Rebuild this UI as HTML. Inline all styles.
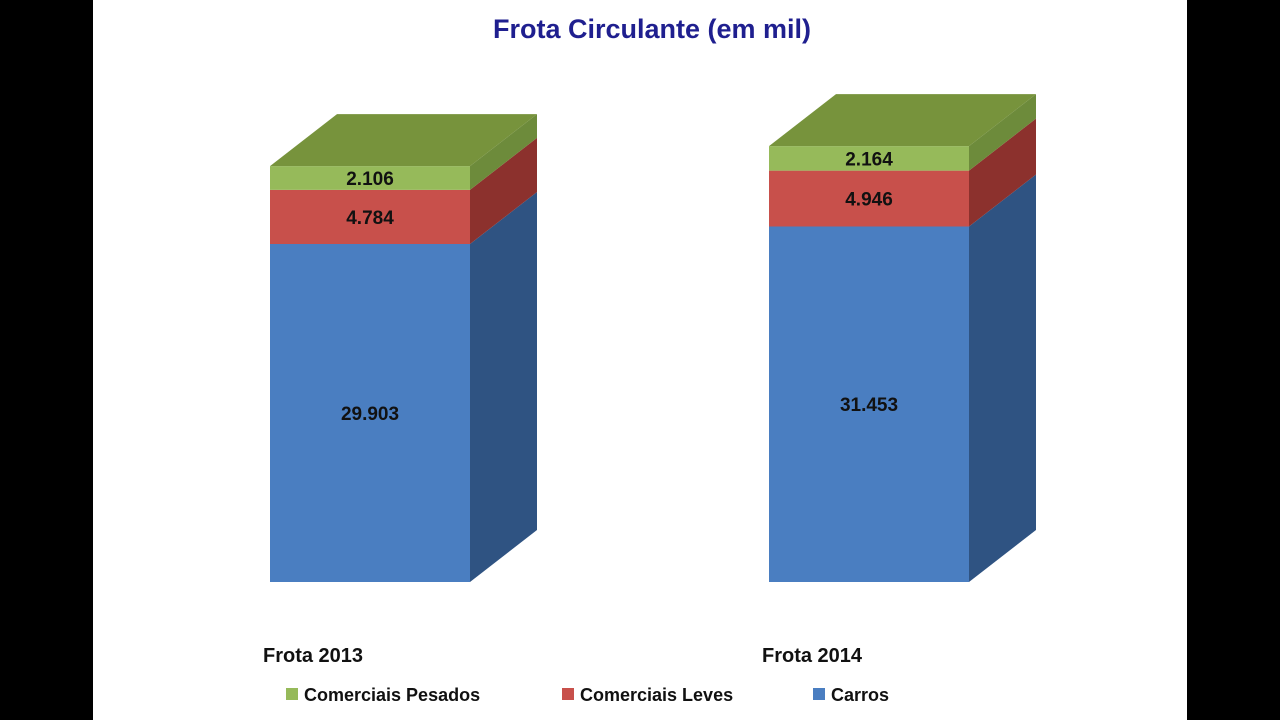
<!DOCTYPE html>
<html><head><meta charset="utf-8"><style>
html,body{margin:0;padding:0;width:1280px;height:720px;overflow:hidden;background:#000;}
#wrap{position:absolute;left:93px;top:0;width:1094px;height:720px;background:#fff;}
svg{position:absolute;left:0;top:0;}
text{font-family:"Liberation Sans",sans-serif;}
</style></head><body>
<div id="wrap"></div>
<svg id="chart" width="1280" height="720">
<text x="652" y="38" text-anchor="middle" font-size="27" font-weight="bold" fill="#1f1f8f">Frota Circulante (em mil)</text>
</svg>
<script>
const categories = ["Frota 2013", "Frota 2014"];
const seriesNames = ["Carros", "Comerciais Leves", "Comerciais Pesados"];
const carros = [29903, 31453];
const leves = [4784, 4946];
const pesados = [2106, 2164];
const labels = [["29.903","4.784","2.106"],["31.453","4.946","2.164"]];

const svg = document.getElementById('chart');
const NS = 'http://www.w3.org/2000/svg';
const baseY = 582, scale = 338/29903, dx = 67, dy = 52, bw = 200;
const barX = [270, 769];
const y = v => baseY - v*scale;
const cols = [
  {front:"#4a7ec1", side:"#2f5382", top:"#3d6aa5"},
  {front:"#c8504b", side:"#8c312d", top:"#a63e39"},
  {front:"#96ba5a", side:"#6d8b3b", top:"#77933c"}
];
function poly(pts, fill, name){
  const p = document.createElementNS(NS,'polygon');
  p.setAttribute('points', pts.map(a=>a.join(',')).join(' '));
  p.setAttribute('fill', fill);
  
  
  svg.appendChild(p);
}
function txt(x, yy, s, size, name, anchor){
  const t = document.createElementNS(NS,'text');
  t.setAttribute('x', x); t.setAttribute('y', yy);
  t.setAttribute('font-size', size); t.setAttribute('font-weight','bold');
  t.setAttribute('text-anchor', anchor||'middle'); t.setAttribute('fill','#111');
  t.textContent = s;
  
  
  svg.appendChild(t);
}
categories.forEach((c, i) => {
  const vals = [carros[i], leves[i], pesados[i]];
  let cum = 0;
  const x0 = barX[i], x1 = x0 + bw;
  vals.forEach((v, k) => {
    const yb = y(cum), yt = y(cum + v);
    poly([[x0,yb],[x1,yb],[x1,yt],[x0,yt]], cols[k].front, 'bar-'+(i?'2014':'2013')+'-seg-'+k);
    poly([[x1,yb],[x1+dx,yb-dy],[x1+dx,yt-dy],[x1,yt]], cols[k].side, 'bar-side-'+i+'-'+k);
    txt((x0+x1)/2, (yb+yt)/2+7, labels[i][k], 19, 'value-label-'+i+'-'+k);
    cum += v;
  });
  const yt = y(cum);
  poly([[x0,yt],[x1,yt],[x1+dx,yt-dy],[x0+dx,yt-dy]], cols[2].top, 'bar-top-'+i);
  txt(x0-7, 662, c, 20, 'category-label-'+i, 'start');
});
const legend = [[286,"Comerciais Pesados",2],[562,"Comerciais Leves",1],[813,"Carros",0]];
legend.forEach(([lx, name, k]) => {
  const r = document.createElementNS(NS,'rect');
  r.setAttribute('x', lx); r.setAttribute('y', 688); r.setAttribute('width', 12); r.setAttribute('height', 12);
  r.setAttribute('fill', cols[k].front);
  
  
  svg.appendChild(r);
  txt(lx+18, 701, name, 18, 'legend-entry-'+k, 'start');
});
</script>
</body></html>
